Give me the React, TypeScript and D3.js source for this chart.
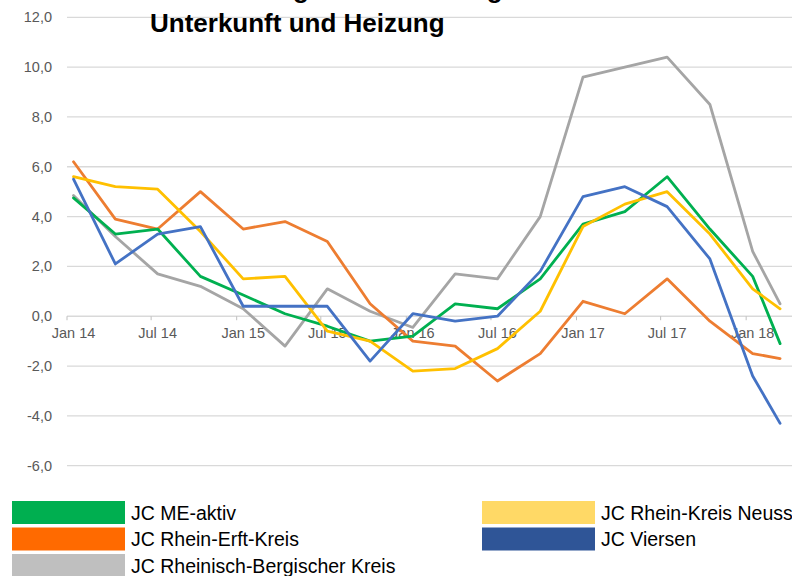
import * as d3 from "d3";
import React from "react";

// quarterly values, last one is March 2018
const periods = [
  "2014-01", "2014-04", "2014-07", "2014-10",
  "2015-01", "2015-04", "2015-07", "2015-10",
  "2016-01", "2016-04", "2016-07", "2016-10",
  "2017-01", "2017-04", "2017-07", "2017-10",
  "2018-01", "2018-03",
];

const meAktiv = [4.75, 3.3, 3.5, 1.6, 0.85, 0.1, -0.4, -1.0, -0.8, 0.5, 0.3, 1.5, 3.7, 4.2, 5.6, 3.5, 1.6, -1.1];
const rheinErft = [6.2, 3.9, 3.5, 5.0, 3.5, 3.8, 3.0, 0.5, -1.0, -1.2, -2.6, -1.5, 0.6, 0.1, 1.5, -0.2, -1.5, -1.7];
const rheinBerg = [4.85, 3.2, 1.7, 1.2, 0.3, -1.2, 1.1, 0.2, -0.45, 1.7, 1.5, 4.0, 9.6, 10.0, 10.4, 8.5, 2.6, 0.5];
const rheinNeuss = [5.6, 5.2, 5.1, 3.4, 1.5, 1.6, -0.6, -1.0, -2.2, -2.1, -1.3, 0.2, 3.6, 4.5, 5.0, 3.3, 1.1, 0.3];
const viersen = [5.5, 2.1, 3.3, 3.6, 0.4, 0.4, 0.4, -1.8, 0.1, -0.2, 0.0, 1.8, 4.8, 5.2, 4.4, 2.3, -2.4, -4.3];

const yTicks = [-6, -4, -2, 0, 2, 4, 6, 8, 10, 12];

const seriesNames = ["JC ME-aktiv", "JC Rhein-Erft-Kreis", "JC Rheinisch-Bergischer Kreis", "JC Rhein-Kreis Neuss", "JC Viersen"];
const lineColors = ["#00B050", "#ED7D31", "#A5A5A5", "#FFC000", "#4472C4"];
const legendColors = ["#00AF50", "#FF6A00", "#BFBFBF", "#FFD966", "#2F5597"];
const seriesValues = [meAktiv, rheinErft, rheinBerg, rheinNeuss, viersen];
// draw order of the lines
const drawOrder = [2, 1, 0, 3, 4];

const titleLines = ["Veränderungen der Leistungen für", "Unterkunft und Heizung"];

const parsePeriod = (p: string) => {
  const [y, m] = p.split("-").map(Number);
  return new Date(y, m - 1, 15);
};

export default function App() {
  const width = 792;
  const height = 576;

  const x = d3.scaleTime()
    .domain([new Date(2014, 0, 1), new Date(2018, 3, 1)])
    .range([67, 788]);
  const y = d3.scaleLinear().domain([-6, 12]).range([465.7, 17.3]);

  const dates = periods.map(parsePeriod);
  const line = d3.line<number>()
    .x((_, i) => x(dates[i]))
    .y((d) => y(d));

  const xTicks = x.ticks(d3.timeMonth.every(6)!);
  const fmtX = d3.timeFormat("%b %y");
  const fmtY = (v: number) => v.toFixed(1).replace(".", ",");

  const legendRows = [
    { col: 0, row: 0, i: 0 },
    { col: 0, row: 1, i: 1 },
    { col: 0, row: 2, i: 2 },
    { col: 1, row: 0, i: 3 },
    { col: 1, row: 1, i: 4 },
  ];

  return (
    <svg width={width} height={height} style={{ position: "absolute", left: 0, top: 0, background: "#fff" }}
      fontFamily="'Liberation Sans', Arial, sans-serif">
      {/* gridlines */}
      {yTicks.map((t) => (
        <g key={t}>
          <line x1={67} x2={width} y1={y(t)} y2={y(t)} stroke="#D9D9D9" strokeWidth={1.3} />
          <text x={52} y={y(t) + 5} textAnchor="end" fontSize={14.5} fill="#595959">{fmtY(t)}</text>
        </g>
      ))}

      {/* x axis ticks on the zero line */}
      {xTicks.map((t) => (
        <g key={+t}>
          <line x1={x(t)} x2={x(t)} y1={y(0)} y2={y(0) + 4} stroke="#BFBFBF" strokeWidth={1} />
          <text x={x(d3.timeDay.offset(t, 14))} y={338} textAnchor="middle" fontSize={14.5} fill="#595959">{fmtX(t)}</text>
        </g>
      ))}

      {drawOrder.map((i) => (
        <path key={seriesNames[i]} d={line(seriesValues[i]) || ""} fill="none"
          stroke={lineColors[i]} strokeWidth={2.8} strokeLinejoin="round" strokeLinecap="round" />
      ))}

      {/* title, first line runs off the top edge */}
      {titleLines.map((t, k) => (
        <text key={t} x={150} y={-2 + k * 34} fontSize={26} fontWeight="bold" fill="#000">{t}</text>
      ))}

      {/* legend */}
      {legendRows.map(({ col, row, i }) => (
        <g key={seriesNames[i]} transform={`translate(${col === 0 ? 12 : 482},${501 + row * 26.5})`}>
          <rect x={0} y={0} width={113} height={23} fill={legendColors[i]} />
          <text x={119} y={18.5} fontSize={19.5} fill="#000">{seriesNames[i]}</text>
        </g>
      ))}
    </svg>
  );
}
